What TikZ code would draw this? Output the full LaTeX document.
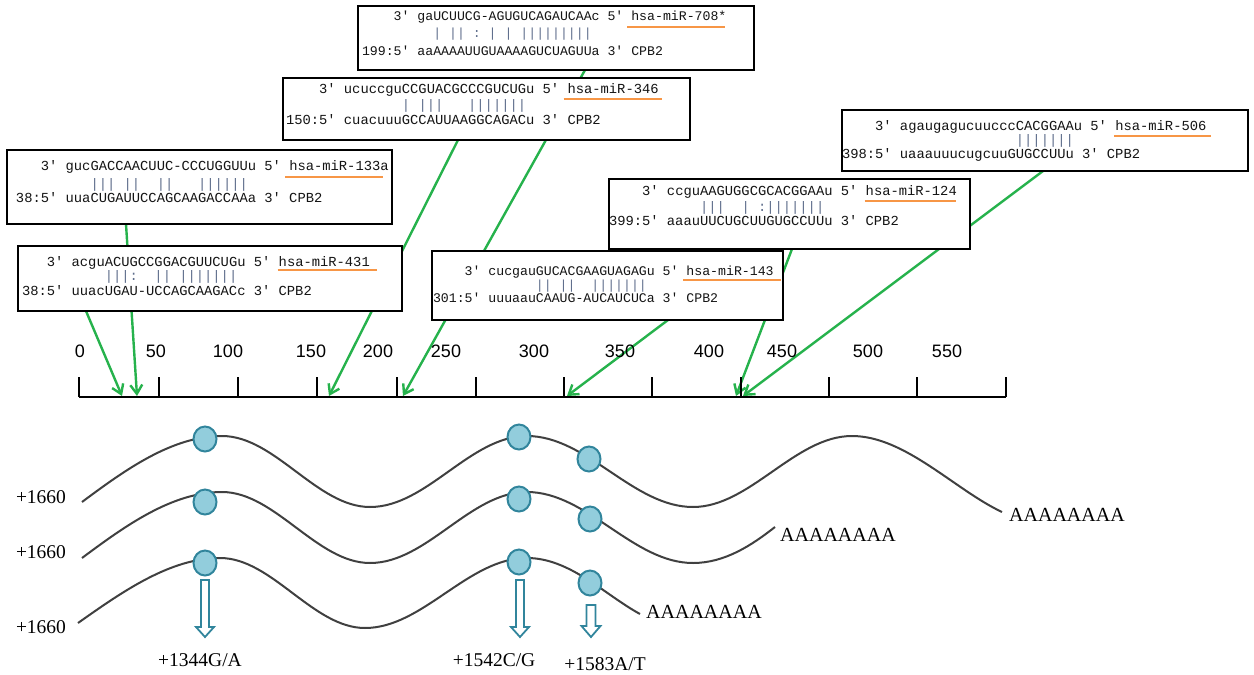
\documentclass[tikz,border=0pt]{standalone}
\usepackage{fontspec}
\setmainfont{Liberation Serif}
\setsansfont{Liberation Sans}
\setmonofont{Liberation Mono}
\usetikzlibrary{arrows.meta,shapes.geometric}
\pgfdeclarelayer{bg}
\pgfsetlayers{bg,main}
\definecolor{arrgreen}{RGB}{38,178,76}
\definecolor{ulorange}{RGB}{247,150,70}
\definecolor{circfill}{RGB}{146,205,220}
\definecolor{circdraw}{RGB}{49,133,156}
\definecolor{wavegray}{RGB}{64,64,64}
\definecolor{pipecol}{RGB}{95,110,140}
\begin{document}
\begin{tikzpicture}[x=1pt,y=-1pt,
  box/.style={draw=black,line width=1.3pt,fill=white,inner sep=0pt,outer sep=0pt,anchor=north west},
  seqA/.style={anchor=base west,inner sep=0pt,outer sep=0pt,text=black!92,font=\ttfamily\fontsize{13.8}{16}\selectfont},
  seqB/.style={anchor=base west,inner sep=0pt,outer sep=0pt,text=black!92,font=\ttfamily\fontsize{13.2}{16}\selectfont},
  pipeA/.style={seqA,text=pipecol},
  pipeB/.style={seqB,text=pipecol},
  uline/.style={draw=ulorange,line width=2.2pt},
  garrow/.style={draw=arrgreen,line width=2.4pt,-{Straight Barb[length=9pt,width=12pt]}},
  ruler/.style={draw=black,line width=1.3pt},
  rlabel/.style={font=\sffamily\fontsize{18}{21}\selectfont,inner sep=0pt},
  wavecurve/.style={draw=wavegray,line width=2pt},
  snp/.style={ellipse,draw=circdraw,fill=circfill,line width=2pt,minimum width=23pt,minimum height=25pt,inner sep=0pt},
  barr/.style={draw=circdraw,fill=white,line width=1.8pt,line join=miter},
  tlabel/.style={font=\fontsize{19.5}{22}\selectfont,inner sep=0pt},
  polyA/.style={font=\fontsize{20}{24}\selectfont,inner sep=0pt,anchor=west},
]
\useasboundingbox (0,0) rectangle (1254,675);

% ---------- boxes ----------
\node[box,minimum width=396pt,minimum height=64pt] (b708) at (358,6) {};
\node[box,minimum width=407pt,minimum height=62pt] (b346) at (283,78) {};
\node[box,minimum width=385pt,minimum height=74pt] (b133) at (7,150) {};
\node[box,minimum width=384pt,minimum height=65pt] (b431) at (18,246) {};
\node[box,minimum width=406pt,minimum height=61pt] (b506) at (842,110) {};
\node[box,minimum width=361pt,minimum height=70pt] (b124) at (609,179) {};
\node[box,minimum width=351pt,minimum height=69pt] (b143) at (432,251) {};

% ---------- 708 ----------
\node[seqB] (t708a) at (362,20) {~~~~3'~gaUCUUCG-AGUGUCAGAUCAAc~5'};
\node[seqB] (n708) at ([xshift=7.92pt]t708a.base east) {hsa-miR-708*};
\node[pipeB] (p708) at (362,37.5) {~~~~~~~~~|~||~:~|~|~|||||||||};
\node[seqB] (t708b) at (362,55) {199:5'~aaAAAAUUGUAAAAGUCUAGUUa~3'~CPB2};
\draw[uline] ([xshift=-4pt,yshift=-7pt]n708.base west) -- ([xshift=94pt,yshift=-7pt]n708.base west);

% ---------- 346 ----------
\node[seqA] (t346a) at (286,93) {~~~~3'~ucuccguCCGUACGCCCGUCUGu~5'};
\node[seqA] (n346) at ([xshift=8.28pt]t346a.base east) {hsa-miR-346};
\node[pipeA] (p346) at (286,109) {~~~~~~~~~~~~~~|~|||~~~|||||||};
\node[seqA] (t346b) at (286,124) {150:5'~cuacuuuGCCAUUAAGGCAGACu~3'~CPB2};
\draw[uline] ([xshift=-4pt,yshift=-6pt]n346.base west) -- ([xshift=94pt,yshift=-6pt]n346.base west);

% ---------- 133a ----------
\node[seqA] (t133a) at (16,170) {~~~3'~gucGACCAACUUC-CCCUGGUUu~5'};
\node[seqA] (n133) at ([xshift=8.28pt]t133a.base east) {hsa-miR-133a};
\node[pipeA] (p133) at (16,188) {~~~~~~~~~|||~||~~||~~~||||||};
\node[seqA] (t133b) at (16,202) {38:5'~uuaCUGAUUCCAGCAAGACCAAa~3'~CPB2};
\draw[uline] ([xshift=-4pt,yshift=-7pt]n133.base west) -- ([xshift=94pt,yshift=-7pt]n133.base west);

% ---------- 431 ----------
\node[seqA] (t431a) at (22,266) {~~~3'~acguACUGCCGGACGUUCUGu~5'};
\node[seqA] (n431) at ([xshift=8.28pt]t431a.base east) {hsa-miR-431};
\node[pipeA] (p431) at (22,280.5) {~~~~~~~~~~|||:~~||~|||||||};
\node[seqA] (t431b) at (22,295) {38:5'~uuacUGAU-UCCAGCAAGACc~3'~CPB2};
\draw[uline] ([xshift=-1pt,yshift=-4pt]n431.base west) -- ([xshift=98pt,yshift=-4pt]n431.base west);

% ---------- 506 ----------
\node[seqA] (t506a) at (842,130) {~~~~3'~agaugagucuucccCACGGAAu~5'};
\node[seqA] (n506) at ([xshift=8.28pt]t506a.base east) {hsa-miR-506};
\node[pipeA] (p506) at (842,144) {~~~~~~~~~~~~~~~~~~~~~|||||||};
\node[seqA] (t506b) at (842,158) {398:5'~uaaauuucugcuuGUGCCUUu~3'~CPB2};
\draw[uline] ([xshift=-1pt,yshift=-6pt]n506.base west) -- ([xshift=96pt,yshift=-6pt]n506.base west);

% ---------- 124 ----------
\node[seqA] (t124a) at (609,195) {~~~~3'~ccguAAGUGGCGCACGGAAu~5'};
\node[seqA] (n124) at ([xshift=8.28pt]t124a.base east) {hsa-miR-124};
\node[pipeA] (p124) at (609,211) {~~~~~~~~~~~|||~~|~:|||||||};
\node[seqA] (t124b) at (609,225) {399:5'~aaauUUCUGCUUGUGCCUUu~3'~CPB2};
\draw[uline] ([xshift=-1pt,yshift=-6pt]n124.base west) -- ([xshift=90pt,yshift=-6pt]n124.base west);

% ---------- 143 ----------
\node[seqB] (t143a) at (433,275) {~~~~3'~cucgauGUCACGAAGUAGAGu~5'};
\node[seqB] (n143) at ([xshift=7.92pt]t143a.base east) {hsa-miR-143};
\node[pipeB] (p143) at (433,289.5) {~~~~~~~~~~~~~||~||~~|||||||};
\node[seqB] (t143b) at (433,302) {301:5'~uuuaauCAAUG-AUCAUCUCa~3'~CPB2};
\draw[uline] ([xshift=-3pt,yshift=-5pt]n143.base west) -- ([xshift=95pt,yshift=-5pt]n143.base west);

% ---------- ruler ----------
\coordinate (rl) at (79,397);
\coordinate (rr) at (1006,397);
\draw[ruler] (rl) -- (rr);
\foreach \x in {79,159,238,317,397,476,564,652,741,829,917,1006}
  \draw[ruler] (\x,377) -- (\x,397);
\foreach \x/\t in {80/0,156/50,228/100,311/150,378/200,446/250,534/300,620/350,709/400,782/450,868/500,947/550}
  \node[rlabel] (lab\t) at (\x,351) {\t};

\coordinate (e431) at (122,396);
\coordinate (e133) at (137,396);
\coordinate (e346) at (329,396);
\coordinate (e708) at (403,396);
\coordinate (e143) at (567,396);
\coordinate (e124) at (736,396);
\coordinate (e506) at (743,396);

% ---------- green arrows (behind boxes) ----------
\begin{pgfonlayer}{bg}
\draw[garrow] ([xshift=119pt]b133.south west) -- (e133);
\draw[garrow] ([xshift=68pt]b431.south west) -- (e431);
\draw[garrow] ([xshift=175pt]b346.south west) -- (e346);
\draw[garrow] ([xshift=227pt]b708.south west) -- (e708);
\draw[garrow] ([xshift=236pt]b143.south west) -- (e143);
\draw[garrow] ([xshift=183pt]b124.south west) -- (e124);
\draw[garrow] ([xshift=201pt]b506.south west) -- (e506);
\end{pgfonlayer}

% ---------- mRNA waves ----------
\draw[wavecurve] (82,502) .. controls (125,470) and (172,436) .. (222,436)
  .. controls (275,436) and (317,507) .. (370,507)
  .. controls (427,507) and (470,436) .. (527,436)
  .. controls (587,436) and (633,507) .. (693,507)
  .. controls (750,507) and (795,436) .. (852,436)
  .. controls (905,436) and (955,490) .. (1002,512);
\draw[wavecurve] (82,558) .. controls (125,526) and (172,492) .. (222,492)
  .. controls (275,492) and (317,563) .. (370,563)
  .. controls (427,563) and (470,492) .. (527,492)
  .. controls (587,492) and (633,563) .. (693,563)
  .. controls (725,563) and (752,545) .. (775,527);
\draw[wavecurve] (78,623) .. controls (122,592) and (170,558) .. (220,558)
  .. controls (272,558) and (313,628) .. (365,628)
  .. controls (423,628) and (468,558) .. (527,558)
  .. controls (570,558) and (605,595) .. (640,614);

\node[snp] (c11) at (205,439) {};
\node[snp] (c12) at (519,437) {};
\node[snp] (c13) at (589,459) {};
\node[snp] (c21) at (205,502) {};
\node[snp] (c22) at (519,499) {};
\node[snp] (c23) at (590,519) {};
\node[snp] (c31) at (205,563) {};
\node[snp] (c32) at (519,562) {};
\node[snp] (c33) at (590,583) {};

\node[tlabel] (p1) at (41,497) {+1660};
\node[tlabel] (p2) at (41,552) {+1660};
\node[tlabel] (p3) at (41,627) {+1660};

\node[polyA] (a1) at (1009,515) {AAAAAAAA};
\node[polyA] (a2) at (780,535) {AAAAAAAA};
\node[polyA] (a3) at (646,612) {AAAAAAAA};

% ---------- hollow block arrows ----------
\coordinate (ba1) at (205,580);
\coordinate (ba2) at (520,580);
\coordinate (ba3) at (591,605);
\draw[barr] (ba1) ++(-4,0) -- ++(8,0) -- ++(0,47) -- ++(5,0) -- ++(-9,10) -- ++(-9,-10) -- ++(5,0) -- cycle;
\draw[barr] (ba2) ++(-4,0) -- ++(8,0) -- ++(0,47) -- ++(5,0) -- ++(-9,10) -- ++(-9,-10) -- ++(5,0) -- cycle;
\draw[barr] (ba3) ++(-4.5,0) -- ++(9,0) -- ++(0,21) -- ++(5,0) -- ++(-9.5,11) -- ++(-9.5,-11) -- ++(5,0) -- cycle;

\node[tlabel] (s1) at (200,660) {+1344G/A};
\node[tlabel] (s2) at (494,660) {+1542C/G};
\node[tlabel] (s3) at (605,664) {+1583A/T};
\end{tikzpicture}
\end{document}
